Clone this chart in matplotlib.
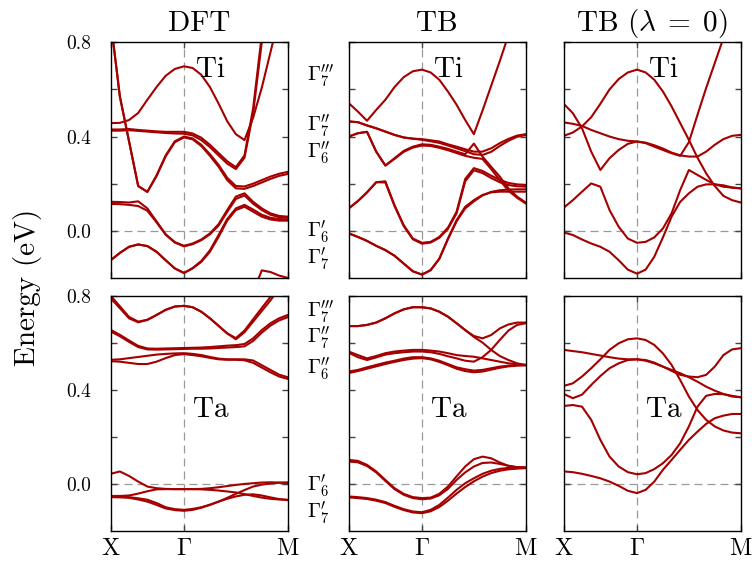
import matplotlib
matplotlib.use("Agg")
import matplotlib.pyplot as plt

plt.rcParams['font.family'] = 'serif'
plt.rcParams['font.serif'] = ['cmr10', 'DejaVu Serif']
plt.rcParams['mathtext.fontset'] = 'cm'
plt.rcParams['axes.unicode_minus'] = False
plt.rcParams['axes.formatter.use_mathtext'] = True

nan = float('nan')

# k-path samples: X (0) -> Gamma (0.5) -> M (0.5 + 0.5*sqrt2)
k = [0.0, 0.0625, 0.125, 0.1875, 0.25, 0.3125, 0.375, 0.4375, 0.5,
     0.5589, 0.6179, 0.6768, 0.7357, 0.7946, 0.8536, 0.9125, 0.9714,
     1.0303, 1.0893, 1.1482, 1.2071]
k_ticks = [0.0, 0.5, 1.2071]
k_labels = [r'$\mathrm{X}$', r'$\Gamma$', r'$\mathrm{M}$']

# ---------------- DFT, Ti ----------------
dft_ti_1 = [0.457, 0.458, 0.47, 0.50, 0.556, 0.61, 0.658, 0.687, 0.698, 0.691, 0.662, 0.61, 0.54, 0.465, 0.41, 0.385, 0.48, 0.607, 0.757, 0.91, 1.06]
dft_ti_2 = [0.43, 0.43, 0.432, 0.428, 0.425, 0.422, 0.42, 0.42, 0.42, 0.413, 0.395, 0.365, 0.33, 0.295, 0.27, 0.32, 0.52, 0.83, 1.10, 1.40, 1.70]
dft_ti_2b = [0.425, 0.425, 0.427, 0.424, 0.421, 0.418, 0.415, 0.413, 0.412, 0.405, 0.385, 0.355, 0.32, 0.285, 0.262, 0.31, 0.50, 0.80, 1.08, 1.38, 1.68]
dft_ti_3 = [0.89, 0.57, 0.38, 0.19, 0.165, 0.235, 0.32, 0.38, 0.40, 0.392, 0.365, 0.325, 0.28, 0.225, 0.19, 0.188, 0.2, 0.215, 0.23, 0.242, 0.25]
dft_ti_3b = [0.89, 0.57, 0.38, 0.19, 0.165, 0.232, 0.316, 0.376, 0.396, 0.388, 0.36, 0.318, 0.272, 0.215, 0.18, 0.178, 0.19, 0.205, 0.22, 0.233, 0.241]
dft_ti_4 = [0.123, 0.122, 0.12, 0.125, 0.095, 0.04, -0.015, -0.048, -0.064, -0.054, -0.037, -0.011, 0.028, 0.088, 0.145, 0.159, 0.123, 0.095, 0.074, 0.063, 0.06]
dft_ti_4b = [0.114, 0.113, 0.11, 0.105, 0.085, 0.036, -0.017, -0.05, -0.066, -0.057, -0.04, -0.015, 0.022, 0.08, 0.135, 0.15, 0.115, 0.088, 0.068, 0.058, 0.055]
dft_ti_5 = [-0.125, -0.094, -0.068, -0.058, -0.065, -0.089, -0.125, -0.16, -0.179, -0.16, -0.132, -0.089, -0.026, 0.043, 0.088, 0.102, 0.081, 0.06, 0.048, 0.043, 0.043]
dft_ti_5b = [-0.125, -0.094, -0.068, -0.058, -0.065, -0.089, -0.125, -0.16, -0.179, -0.158, -0.128, -0.083, -0.018, 0.05, 0.095, 0.11, 0.09, 0.068, 0.055, 0.05, 0.048]
dft_ti_6 = [nan, nan, nan, nan, nan, nan, nan, nan, nan, nan, nan, nan, nan, nan, nan, nan, -0.26, -0.168, -0.175, -0.19, -0.2]

# ---------------- TB, Ti ----------------
tb_ti_1 = [0.542, 0.506, 0.467, 0.513, 0.556, 0.61, 0.652, 0.677, 0.684, 0.672, 0.641, 0.591, 0.535, 0.47, 0.41, 0.51, 0.615, 0.72, 0.83, 0.94, 1.05]
tb_ti_2 = [0.464, 0.461, 0.447, 0.435, 0.421, 0.407, 0.396, 0.391, 0.389, 0.384, 0.379, 0.367, 0.357, 0.346, 0.336, 0.336, 0.35, 0.372, 0.39, 0.404, 0.41]
tb_ti_2b = [0.464, 0.461, 0.447, 0.435, 0.421, 0.407, 0.396, 0.391, 0.386, 0.38, 0.373, 0.362, 0.35, 0.338, 0.325, 0.322, 0.335, 0.36, 0.382, 0.399, 0.406]
tb_ti_3 = [0.40, 0.414, 0.42, 0.336, 0.277, 0.308, 0.339, 0.357, 0.367, 0.365, 0.357, 0.348, 0.336, 0.325, 0.37, 0.315, 0.272, 0.23, 0.18, 0.145, 0.12]
tb_ti_3b = [0.40, 0.414, 0.42, 0.336, 0.277, 0.305, 0.335, 0.353, 0.362, 0.36, 0.352, 0.342, 0.33, 0.318, 0.31, 0.305, 0.262, 0.215, 0.17, 0.14, 0.116]
tb_ti_4 = [0.095, 0.126, 0.163, 0.206, 0.21, 0.109, 0.024, -0.033, -0.051, -0.047, -0.026, 0.013, 0.081, 0.22, 0.266, 0.254, 0.234, 0.216, 0.203, 0.197, 0.194]
tb_ti_4b = [0.095, 0.126, 0.163, 0.206, 0.205, 0.105, 0.02, -0.036, -0.055, -0.05, -0.03, 0.008, 0.074, 0.21, 0.257, 0.245, 0.224, 0.206, 0.194, 0.189, 0.187]
tb_ti_5 = [-0.011, -0.026, -0.043, -0.064, -0.082, -0.106, -0.139, -0.172, -0.186, -0.167, -0.118, -0.033, 0.045, 0.102, 0.13, 0.152, 0.163, 0.166, 0.166, 0.166, 0.166]
tb_ti_5b = [-0.011, -0.026, -0.043, -0.064, -0.082, -0.106, -0.139, -0.172, -0.186, -0.167, -0.12, -0.036, 0.04, 0.095, 0.125, 0.15, 0.165, 0.172, 0.175, 0.176, 0.176]

# ---------------- TB (lambda = 0), Ti ----------------
l0_ti_1 = [0.403, 0.417, 0.443, 0.482, 0.539, 0.6, 0.644, 0.672, 0.684, 0.672, 0.641, 0.591, 0.528, 0.457, 0.386, 0.31, 0.244, 0.19, 0.148, 0.13, 0.12]
l0_ti_2 = [0.539, 0.499, 0.435, 0.336, 0.258, 0.308, 0.343, 0.369, 0.379, 0.372, 0.357, 0.343, 0.329, 0.318, 0.376, 0.492, 0.606, 0.712, 0.818, 0.93, 1.04]
l0_ti_3 = [0.46, 0.454, 0.445, 0.428, 0.414, 0.40, 0.389, 0.382, 0.379, 0.374, 0.363, 0.349, 0.332, 0.32, 0.315, 0.315, 0.336, 0.365, 0.389, 0.403, 0.407]
l0_ti_4 = [0.098, 0.13, 0.166, 0.201, 0.187, 0.088, 0.017, -0.033, -0.051, -0.047, -0.028, 0.01, 0.074, 0.173, 0.258, 0.237, 0.216, 0.197, 0.187, 0.183, 0.18]
l0_ti_5 = [-0.007, -0.018, -0.037, -0.054, -0.068, -0.089, -0.125, -0.165, -0.182, -0.165, -0.11, -0.028, 0.06, 0.123, 0.159, 0.187, 0.197, 0.197, 0.193, 0.184, 0.18]

# ---------------- DFT, Ta ----------------
dft_ta_1 = [0.789, 0.747, 0.704, 0.687, 0.697, 0.718, 0.74, 0.754, 0.757, 0.751, 0.732, 0.704, 0.672, 0.64, 0.615, 0.645, 0.69, 0.735, 0.78, 0.83, 0.88]
dft_ta_1b = [0.80, 0.755, 0.71, 0.69, 0.698, 0.718, 0.74, 0.754, 0.757, 0.751, 0.732, 0.704, 0.672, 0.64, 0.62, 0.652, 0.70, 0.748, 0.795, 0.845, 0.90]
dft_ta_2 = [0.655, 0.634, 0.61, 0.587, 0.576, 0.575, 0.576, 0.577, 0.578, 0.579, 0.58, 0.582, 0.585, 0.588, 0.59, 0.595, 0.619, 0.654, 0.683, 0.704, 0.718]
dft_ta_2b = [0.648, 0.628, 0.604, 0.582, 0.572, 0.571, 0.572, 0.573, 0.574, 0.575, 0.575, 0.576, 0.578, 0.58, 0.582, 0.585, 0.608, 0.643, 0.673, 0.695, 0.709]
dft_ta_3 = [0.528, 0.53, 0.535, 0.54, 0.545, 0.55, 0.553, 0.555, 0.556, 0.553, 0.548, 0.54, 0.533, 0.53, 0.53, 0.53, 0.525, 0.505, 0.485, 0.465, 0.454]
dft_ta_3b = [0.522, 0.52, 0.515, 0.51, 0.51, 0.52, 0.535, 0.548, 0.552, 0.548, 0.543, 0.536, 0.53, 0.528, 0.528, 0.526, 0.515, 0.495, 0.475, 0.457, 0.447]
dft_ta_4 = [0.044, 0.054, 0.035, 0.011, -0.01, -0.017, -0.02, -0.021, -0.021, -0.021, -0.02, -0.017, -0.013, -0.008, -0.003, 0.001, 0.004, 0.007, 0.008, 0.007, 0.004]
dft_ta_5 = [-0.05, -0.05, -0.048, -0.04, -0.03, -0.022, -0.021, -0.021, -0.021, -0.021, -0.022, -0.024, -0.027, -0.031, -0.035, -0.042, -0.05, -0.057, -0.062, -0.065, -0.066]
dft_ta_6 = [-0.05, -0.052, -0.055, -0.06, -0.066, -0.08, -0.098, -0.106, -0.109, -0.105, -0.098, -0.087, -0.074, -0.058, -0.041, -0.025, -0.01, -0.002, 0.003, 0.006, 0.008]
dft_ta_7 = [-0.055, -0.056, -0.058, -0.065, -0.074, -0.088, -0.103, -0.11, -0.113, -0.109, -0.1, -0.088, -0.074, -0.062, -0.052, -0.045, -0.043, -0.048, -0.056, -0.063, -0.068]

# ---------------- TB, Ta ----------------
tb_ta_1 = [0.671, 0.671, 0.676, 0.686, 0.704, 0.725, 0.742, 0.751, 0.751, 0.746, 0.732, 0.711, 0.683, 0.654, 0.629, 0.619, 0.633, 0.661, 0.678, 0.686, 0.686]
tb_ta_1b = [0.671, 0.671, 0.676, 0.686, 0.704, 0.725, 0.742, 0.751, 0.751, 0.746, 0.732, 0.711, 0.683, 0.654, 0.625, 0.601, 0.57, 0.544, 0.527, 0.513, 0.506]
tb_ta_2 = [0.563, 0.548, 0.534, 0.544, 0.556, 0.563, 0.567, 0.57, 0.57, 0.567, 0.563, 0.556, 0.548, 0.544, 0.541, 0.534, 0.527, 0.52, 0.513, 0.509, 0.506]
tb_ta_2b = [0.558, 0.539, 0.527, 0.538, 0.55, 0.556, 0.56, 0.563, 0.563, 0.56, 0.553, 0.543, 0.534, 0.524, 0.52, 0.539, 0.57, 0.612, 0.652, 0.676, 0.683]
tb_ta_3 = [0.478, 0.485, 0.496, 0.506, 0.516, 0.524, 0.533, 0.539, 0.539, 0.534, 0.524, 0.51, 0.496, 0.488, 0.482, 0.485, 0.492, 0.499, 0.503, 0.506, 0.506]
tb_ta_3b = [0.472, 0.48, 0.49, 0.50, 0.51, 0.519, 0.527, 0.533, 0.535, 0.53, 0.519, 0.505, 0.49, 0.48, 0.475, 0.478, 0.486, 0.494, 0.50, 0.503, 0.504]
tb_ta_4 = [0.103, 0.099, 0.082, 0.054, 0.018, -0.017, -0.041, -0.055, -0.059, -0.057, -0.041, -0.01, 0.033, 0.075, 0.106, 0.117, 0.11, 0.092, 0.078, 0.072, 0.071]
tb_ta_4b = [0.096, 0.093, 0.077, 0.05, 0.014, -0.021, -0.045, -0.059, -0.064, -0.061, -0.047, -0.02, 0.018, 0.05, 0.075, 0.09, 0.092, 0.086, 0.078, 0.072, 0.069]
tb_ta_5 = [-0.052, -0.055, -0.059, -0.066, -0.076, -0.092, -0.106, -0.116, -0.119, -0.109, -0.088, -0.057, -0.024, 0.004, 0.025, 0.044, 0.057, 0.065, 0.069, 0.071, 0.071]
tb_ta_5b = [-0.056, -0.059, -0.063, -0.07, -0.08, -0.096, -0.11, -0.12, -0.123, -0.115, -0.097, -0.07, -0.04, -0.012, 0.012, 0.032, 0.047, 0.057, 0.063, 0.066, 0.068]

# ---------------- TB (lambda = 0), Ta ----------------
l0_ta_1 = [0.57, 0.565, 0.56, 0.553, 0.546, 0.539, 0.533, 0.53, 0.53, 0.524, 0.513, 0.499, 0.485, 0.471, 0.454, 0.435, 0.414, 0.397, 0.383, 0.372, 0.369]
l0_ta_2 = [0.417, 0.428, 0.457, 0.492, 0.53, 0.57, 0.598, 0.615, 0.619, 0.612, 0.591, 0.555, 0.506, 0.442, 0.372, 0.315, 0.273, 0.245, 0.228, 0.219, 0.216]
l0_ta_3 = [0.383, 0.365, 0.38, 0.421, 0.459, 0.492, 0.513, 0.527, 0.53, 0.527, 0.516, 0.499, 0.481, 0.464, 0.457, 0.454, 0.464, 0.499, 0.548, 0.572, 0.577]
l0_ta_4 = [0.332, 0.336, 0.329, 0.273, 0.188, 0.117, 0.075, 0.051, 0.042, 0.047, 0.064, 0.089, 0.124, 0.174, 0.245, 0.329, 0.375, 0.383, 0.382, 0.375, 0.369]
l0_ta_5 = [0.054, 0.051, 0.044, 0.035, 0.025, 0.011, -0.007, -0.028, -0.038, -0.024, 0.011, 0.061, 0.103, 0.146, 0.188, 0.223, 0.256, 0.28, 0.291, 0.298, 0.298]

titles = ['DFT', 'TB', r'TB ($\lambda\;=\;0$)']
elements = ['Ti', 'Ta']
ytick_vals = [0.0, 0.2, 0.4, 0.6, 0.8]
ytick_text = ['0.0', '', '0.4', '', '0.8']

gamma_labels = [r"$\Gamma_7^{\prime\prime\prime}$", r"$\Gamma_7^{\prime\prime}$", r"$\Gamma_6^{\prime\prime}$",
                r"$\Gamma_6^{\prime}$", r"$\Gamma_7^{\prime}$"]
gamma_pos_ti = [0.637, 0.424, 0.31, -0.026, -0.141]
gamma_pos_ta = [0.71, 0.598, 0.468, -0.03, -0.142]

panels = [
    [[dft_ti_1, dft_ti_2, dft_ti_2b, dft_ti_3, dft_ti_3b, dft_ti_4, dft_ti_4b, dft_ti_5, dft_ti_5b, dft_ti_6],
     [tb_ti_1, tb_ti_2, tb_ti_2b, tb_ti_3, tb_ti_3b, tb_ti_4, tb_ti_4b, tb_ti_5, tb_ti_5b],
     [l0_ti_1, l0_ti_2, l0_ti_3, l0_ti_4, l0_ti_5]],
    [[dft_ta_1, dft_ta_1b, dft_ta_2, dft_ta_2b, dft_ta_3, dft_ta_3b, dft_ta_4, dft_ta_5, dft_ta_6, dft_ta_7],
     [tb_ta_1, tb_ta_1b, tb_ta_2, tb_ta_2b, tb_ta_3, tb_ta_3b, tb_ta_4, tb_ta_4b, tb_ta_5, tb_ta_5b],
     [l0_ta_1, l0_ta_2, l0_ta_3, l0_ta_4, l0_ta_5]],
]

W, H = 752, 566
fig = plt.figure(figsize=(W / 100, H / 100), dpi=100)

col_left = [110.7, 348.7, 563.7]
col_w = 177.0
row_top = [42.3, 295.7]
row_h = 235.6

band_color = '#a40000'
guide_color = '#999999'

for r in range(2):
    for c in range(3):
        ax = fig.add_axes([col_left[c] / W, 1 - (row_top[r] + row_h) / H, col_w / W, row_h / H])
        ax.axvline(0.5, color=guide_color, lw=0.9, ls=(0, (6.4, 4.0)), zorder=1)
        ax.axhline(0.0, color=guide_color, lw=0.9, ls=(0, (6.4, 4.0)), zorder=1)
        for band in panels[r][c]:
            ax.plot(k, band, color=band_color, lw=1.5, zorder=3, solid_joinstyle='round')
        ax.set_xlim(0, 1.2071)
        ax.set_ylim(-0.2, 0.8)
        ax.set_xticks(k_ticks)
        ax.set_yticks(ytick_vals)
        for s in ax.spines.values():
            s.set_linewidth(1.0)
            s.set_zorder(5)
        ax.tick_params(axis='both', direction='in', length=4.5, width=1.0, color='#444444',
                       top=True, bottom=True, left=True, right=True)
        ax.tick_params(axis='y', labelsize=14, pad=14)
        ax.tick_params(axis='x', labelsize=17.5, pad=5)
        if r == 1:
            ax.set_xticklabels(k_labels)
        else:
            ax.set_xticklabels([])
        if c == 0:
            ax.set_yticklabels(ytick_text)
        else:
            ax.set_yticklabels([])
        if r == 0:
            ax.set_title(titles[c], fontsize=21, pad=8)
        ax.text(0.565, 0.854 if r == 0 else 0.487, elements[r], transform=ax.transAxes,
                ha='center', va='baseline', fontsize=21)
        if c == 1:
            poss = gamma_pos_ti if r == 0 else gamma_pos_ta
            for lab, p in zip(gamma_labels, poss):
                ax.text(-0.237, p, lab, transform=ax.get_yaxis_transform(), ha='left',
                        va='baseline', fontsize=15)

fig.text(28 / W, 1 - 287.5 / H, 'Energy (eV)', rotation=90, ha='center', va='center', fontsize=21)

fig.savefig('out.png', dpi=100)
